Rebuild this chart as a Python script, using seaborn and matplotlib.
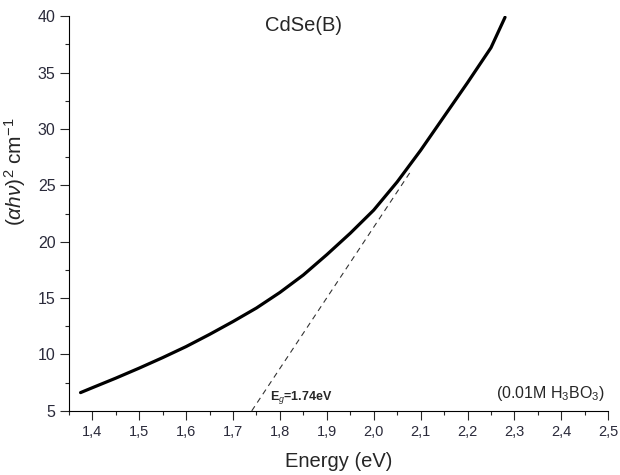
import seaborn as sns
import matplotlib.pyplot as plt
from matplotlib.ticker import MultipleLocator, FuncFormatter

# data
energy = [1.375, 1.40, 1.45, 1.50, 1.55, 1.60, 1.65, 1.70, 1.75, 1.80, 1.85,
          1.90, 1.95, 2.00, 2.05, 2.10, 2.15, 2.20, 2.25, 2.28]
ahv2 = [6.62, 7.05, 7.9, 8.79, 9.72, 10.7, 11.78, 12.92, 14.12, 15.5, 17.05,
        18.85, 20.75, 22.8, 25.3, 28.1, 31.1, 34.1, 37.2, 39.9]
tangent_x = [1.74, 2.08]
tangent_y = [5.0, 26.3]
x_ticks = [1.4, 1.5, 1.6, 1.7, 1.8, 1.9, 2.0, 2.1, 2.2, 2.3, 2.4, 2.5]
y_ticks = [5, 10, 15, 20, 25, 30, 35, 40]

sns.set_style("ticks")
plt.rcParams['font.family'] = ['Liberation Sans', 'DejaVu Sans']
plt.rcParams['mathtext.fontset'] = 'custom'
plt.rcParams['mathtext.rm'] = 'Liberation Sans'
plt.rcParams['mathtext.it'] = 'Liberation Sans:italic'
plt.rcParams['mathtext.bf'] = 'Liberation Sans:bold'

fig = plt.figure(figsize=(6.2, 4.75), dpi=100)
ax = fig.add_axes([0.111, 0.135, 0.870, 0.831])

sns.lineplot(x=energy, y=ahv2, ax=ax, color="black", linewidth=2.3)
sns.lineplot(x=tangent_x, y=tangent_y, ax=ax, color="#333333",
             linewidth=0.8, linestyle=(0, (5, 4)))

ax.set_xlim(1.35, 2.5)
ax.set_ylim(5, 40)
ax.set_xticks(x_ticks)
ax.set_yticks(y_ticks)
ax.xaxis.set_minor_locator(MultipleLocator(0.05))
ax.yaxis.set_minor_locator(MultipleLocator(2.5))
ax.xaxis.set_major_formatter(FuncFormatter(lambda v, p: f"{v:.1f}".replace(".", ",")))
ax.tick_params(which="major", length=6.5, width=0.8, labelcolor="#2a2a3a",
               direction="out")
ax.tick_params(which="minor", length=3, width=0.8, direction="out")
ax.tick_params(axis="x", labelsize=10.5, pad=4)
ax.tick_params(axis="y", labelsize=11.5, pad=3)
sns.despine(ax=ax)
for s in ["left", "bottom"]:
    ax.spines[s].set_linewidth(0.8)
    ax.spines[s].set_color("black")

ax.set_xlabel("Energy (eV)", fontsize=14.5, labelpad=9)
ax.set_ylabel(r"$(\alpha h\nu)^2$ cm$^{-1}$", fontsize=15)
ax.yaxis.set_label_coords(-0.076, 0.605)
fig.text(0.49, 0.966, "CdSe(B)", ha="center", va="top", fontsize=14.5)
ax.text(1.778, 5.95, r"E$_g$=1.74eV", fontsize=9, fontweight="bold")
ax.text(2.376, 6.1, r"(0.01M H$_3$BO$_3$)", fontsize=11.5, ha="center",
        va="baseline")

plt.savefig("out.png", dpi=100)
plt.close()
